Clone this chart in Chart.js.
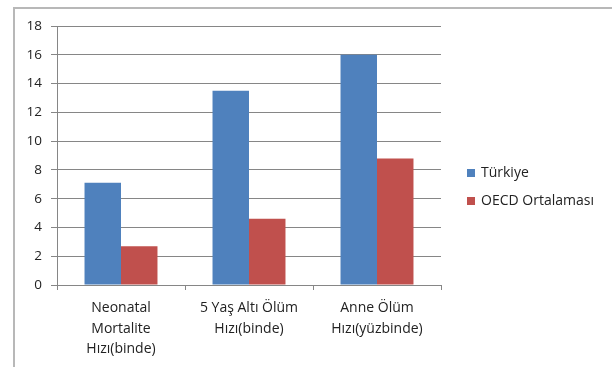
<!DOCTYPE html>
<html>
<head>
<meta charset="utf-8">
<script src="https://cdn.jsdelivr.net/npm/chart.js@4/dist/chart.umd.min.js"></script>
<style>
  html, body { margin: 0; padding: 0; background: #ffffff; }
  #wrap { position: relative; width: 612px; height: 367px; overflow: hidden; }
  #frame { position: absolute; left: 13px; top: 7px; width: 700px; height: 500px;
           border: 2px solid #b8b8b8; box-sizing: border-box; }
  #c { position: absolute; left: 0; top: 0; }
</style>
</head>
<body>
<div id="wrap">
  <div id="frame"></div>
  <canvas id="c" width="612" height="367"></canvas>
</div>
<script>
// Categories (multi-line axis labels)
const categories = [
  ['Neonatal', 'Mortalite', 'Hızı(binde)'],
  ['5 Yaş Altı Ölüm', 'Hızı(binde)'],
  ['Anne Ölüm', 'Hızı(yüzbinde)']
];
const seriesNames = ['Türkiye', 'OECD Ortalaması'];
const turkiye = [7.1, 13.5, 16.0];
const oecd = [2.7, 4.6, 8.8];
const yTicks = [0, 2, 4, 6, 8, 10, 12, 14, 16, 18];

const FONT = "'Open Sans', 'Liberation Sans', sans-serif";
const GRID = '#868686';
const TEXT = '#222222';

// Legend drawn to the right of the plot, vertically centred beside it
const sideLegend = {
  id: 'sideLegend',
  afterDraw(chart) {
    const ctx = chart.ctx;
    const x = chart.chartArea.right + 26;
    const y0 = 173;
    const step = 28;
    ctx.save();
    ctx.font = '14px ' + FONT;
    ctx.textBaseline = 'middle';
    ctx.textAlign = 'left';
    chart.data.datasets.forEach((ds, i) => {
      const y = y0 + i * step;
      ctx.fillStyle = ds.backgroundColor;
      ctx.fillRect(x, y - 4, 8, 8);
      ctx.fillStyle = TEXT;
      ctx.fillText(ds.label, x + 14, y);
    });
    ctx.restore();
  }
};

new Chart(document.getElementById('c'), {
  type: 'bar',
  data: {
    labels: categories,
    datasets: [
      { label: seriesNames[0], data: turkiye, backgroundColor: '#4f81bd', borderWidth: 0 },
      { label: seriesNames[1], data: oecd, backgroundColor: '#c0504d', borderWidth: 0 }
    ]
  },
  plugins: [sideLegend],
  options: {
    responsive: false,
    animation: false,
    devicePixelRatio: 1,
    layout: { padding: { left: 0, right: 171, top: 26, bottom: 5 } },
    datasets: { bar: { categoryPercentage: 0.57, barPercentage: 1.0 } },
    plugins: {
      tooltip: { enabled: false },
      legend: { display: false }
    },
    scales: {
      x: {
        grid: { drawOnChartArea: false, drawTicks: true, tickLength: 5, color: GRID },
        border: { display: true, color: GRID },
        ticks: {
          color: TEXT, padding: 8, maxRotation: 0, autoSkip: false,
          font: { family: FONT, size: 14, lineHeight: 1.46 }
        },
        afterFit: s => { s.height = 77; }
      },
      y: {
        min: 0, max: 18,
        afterBuildTicks: s => { s.ticks = yTicks.map(v => ({ value: v })); },
        grid: { color: GRID, tickLength: 6 },
        border: { display: true, color: GRID },
        ticks: {
          color: TEXT, padding: 9,
          font: { family: FONT, size: 13.5 }
        },
        afterFit: s => { s.width = 57; }
      }
    }
  }
});
</script>
</body>
</html>
